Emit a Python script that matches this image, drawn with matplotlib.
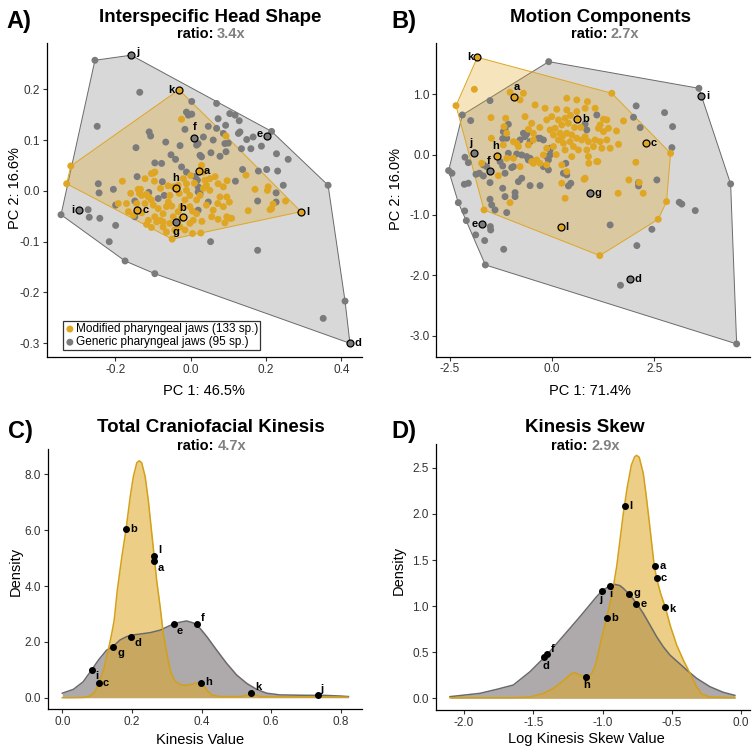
import numpy as np
import matplotlib
matplotlib.use('Agg')
import matplotlib.pyplot as plt

plt.rcParams['font.family'] = ['Liberation Sans', 'DejaVu Sans']
plt.rcParams['axes.unicode_minus'] = False

# ---------------- DATA ----------------
# Panel A: Interspecific head shape (PC1, PC2)
modA_pts = [(-0.024, 0.141), (0.094, 0.108), (-0.318, 0.049), (-0.329, 0.014), (0.252, -0.020),
            (0.215, -0.035), (0.219, -0.026), (0.171, 0.003), (0.204, 0.001), (0.206, 0.008),
            (0.147, 0.031), (0.097, 0.020), (0.153, -0.039), (0.103, -0.022), (0.104, -0.054),
            (0.073, -0.056), (0.027, -0.083), (0.005, -0.084), (-0.049, -0.095), (-0.090, -0.061),
            (-0.104, -0.072), (-0.117, -0.066), (-0.192, -0.025), (-0.181, 0.019), (-0.136, -0.005),
            (-0.117, -0.007), (-0.099, 0.035), (-0.096, 0.019), (-0.159, -0.005), (-0.165, -0.041),
            (-0.130, -0.043), (-0.143, -0.025), (-0.139, 0.003), (-0.130, -0.009), (-0.112, -0.012),
            (-0.104, -0.018), (-0.121, -0.025), (-0.099, -0.028), (-0.086, -0.035), (-0.095, -0.051),
            (-0.112, -0.058), (-0.081, -0.058), (-0.073, -0.045), (-0.064, -0.031), (-0.059, -0.022),
            (-0.055, -0.009), (-0.046, 0.008), (-0.033, 0.011), (-0.019, 0.024), (-0.011, 0.014),
            (-0.011, 0.001), (-0.002, -0.009), (-0.015, -0.018), (-0.024, -0.031), (-0.033, -0.041),
            (-0.046, -0.051), (-0.055, -0.064), (-0.042, -0.077), (-0.028, -0.071), (-0.015, -0.077),
            (-0.002, -0.064), (0.007, -0.058), (0.016, -0.045), (-0.002, -0.031), (0.016, -0.018),
            (0.025, -0.009), (0.034, 0.005), (0.038, 0.021), (0.051, 0.024), (0.065, 0.028),
            (0.073, 0.014), (0.051, 0.001), (0.042, -0.028), (0.060, -0.038), (0.056, -0.051),
            (0.087, -0.031), (0.096, -0.051), (0.078, -0.012), (0.096, -0.012), (0.087, 0.008),
            (0.029, 0.050), (0.034, 0.037), (-0.064, -0.081), (-0.073, -0.071), (-0.152, -0.048),
            (-0.170, -0.025), (-0.133, 0.003), (-0.121, 0.024), (-0.104, 0.034), (-0.095, 0.037),
            (-0.073, -0.061), (0.211, -0.037), (0.072, -0.025), (0.109, -0.054), (0.091, -0.063),
            (0.042, 0.011), (-0.060, 0.010), (-0.030, -0.005), (0.000, 0.030), (-0.050, -0.030),
            (0.010, 0.015), (-0.025, -0.055), (0.030, -0.060), (-0.080, 0.005), (0.005, -0.040)]
genA_pts = [(-0.254, 0.257), (-0.135, 0.194), (-0.248, 0.127), (-0.110, 0.116), (-0.106, 0.108),
            (-0.145, 0.085), (-0.066, 0.096), (-0.028, 0.089), (-0.052, 0.071), (-0.040, 0.062),
            (-0.095, 0.055), (-0.077, 0.054), (-0.024, 0.047), (0.003, 0.176), (-0.011, 0.155),
            (-0.006, 0.149), (0.003, 0.151), (-0.015, 0.121), (0.020, 0.093), (0.034, 0.106),
            (0.025, 0.070), (0.069, 0.172), (0.073, 0.142), (0.047, 0.127), (0.069, 0.123),
            (0.060, 0.100), (0.054, 0.075), (0.078, 0.068), (0.104, 0.152), (0.118, 0.149),
            (0.129, 0.138), (0.093, 0.129), (0.100, 0.094), (0.094, 0.077), (0.127, 0.113),
            (0.149, 0.101), (0.166, 0.106), (0.160, 0.083), (0.215, 0.117), (0.228, 0.073),
            (0.259, 0.062), (0.202, 0.042), (0.180, 0.039), (0.231, 0.039), (0.246, 0.011),
            (0.365, 0.011), (0.227, -0.022), (0.178, -0.020), (0.119, 0.019), (0.020, -0.002),
            (0.020, -0.038), (0.053, -0.100), (0.178, -0.117), (0.410, -0.217), (0.352, -0.251),
            (-0.095, -0.163), (-0.174, -0.138), (-0.216, -0.100), (-0.199, -0.068), (-0.241, -0.054),
            (-0.269, -0.052), (-0.272, -0.037), (-0.344, -0.047), (-0.245, 0.014), (-0.243, -0.004),
            (-0.205, 0.003), (-0.199, -0.028), (-0.148, -0.020), (-0.148, -0.051), (-0.142, 0.028),
            (-0.111, -0.003), (-0.070, -0.009), (-0.075, 0.018), (0.087, 0.113), (0.016, 0.090),
            (0.029, 0.067), (0.091, 0.093), (-0.011, 0.037), (0.012, 0.028), (0.020, 0.008),
            (0.025, -0.005), (0.047, -0.022), (-0.086, -0.015), (0.131, 0.116), (0.135, 0.083),
            (0.188, 0.088), (0.138, 0.042), (0.227, -0.004), (0.018, 0.021)]
labA_names = ['a', 'b', 'c', 'd', 'e', 'f', 'g', 'h', 'i', 'j', 'k', 'l']
labA_x = [0.022, -0.021, -0.141, 0.423, 0.202, 0.010, -0.040, -0.040, -0.296, -0.158, -0.031, 0.293]
labA_y = [0.039, -0.052, -0.038, -0.300, 0.108, 0.105, -0.061, 0.005, -0.038, 0.267, 0.199, -0.041]
lab_group = ['mod', 'mod', 'mod', 'gen', 'gen', 'gen', 'gen', 'mod', 'gen', 'gen', 'mod', 'mod']

# Panel B: Motion components (PC1, PC2)
modB_pts = [(-1.900, 1.083), (-2.349, 0.812), (-1.028, 1.033), (-0.701, 1.017), (-0.783, 0.906),
            (1.460, 1.017), (2.896, 0.022), (2.798, -0.779), (2.594, -1.072), (1.166, -1.674),
            (-1.664, -0.917), (-1.493, 0.613), (-1.485, 0.271), (-1.134, 0.602), (-1.175, 0.464),
            (-1.191, 0.160), (-1.109, -0.061), (-0.865, 0.188), (-0.824, 0.133), (-0.579, 0.160),
            (-0.457, 0.243), (-0.783, -0.199), (-0.457, -0.144), (-0.294, -0.144), (-0.131, -0.171),
            (-1.028, -0.796), (-1.313, -0.348), (-1.721, -0.144), (-0.416, 0.823), (-0.171, 0.768),
            (0.114, 0.751), (0.359, 0.740), (0.604, 0.713), (0.359, 0.934), (0.604, 0.906),
            (0.865, 0.878), (1.052, 0.768), (0.808, 0.768), (-0.661, 0.630), (-0.498, 0.519),
            (-0.579, 0.420), (-0.457, 0.354), (-0.131, 0.575), (-0.008, 0.630), (0.155, 0.575),
            (0.318, 0.602), (0.400, 0.519), (0.237, 0.492), (0.073, 0.436), (-0.049, 0.409),
            (0.033, 0.326), (0.196, 0.354), (0.359, 0.354), (0.481, 0.326), (0.604, 0.271),
            (0.440, 0.215), (0.277, 0.188), (0.155, 0.243), (0.033, 0.133), (0.318, 0.077),
            (0.522, 0.133), (0.726, 0.243), (0.808, 0.298), (0.889, 0.215), (1.052, 0.243),
            (1.175, 0.215), (1.338, 0.243), (1.419, 0.105), (1.215, 0.105), (1.011, 0.133),
            (0.848, 0.077), (0.644, 0.077), (0.481, -0.033), (0.889, -0.033), (1.093, -0.116),
            (0.237, -0.171), (0.359, -0.282), (0.237, -0.475), (0.808, -0.392), (0.318, -0.724),
            (-1.109, 0.354), (-0.946, 0.215), (-0.946, -0.061), (-0.498, -0.116), (-0.375, -0.088),
            (-0.212, -0.006), (-0.131, 0.105), (1.338, 0.575), (1.175, 0.492), (1.256, 0.381),
            (1.378, 0.436), (1.615, -0.641), (1.876, -0.420), (2.129, -0.464), (2.227, -0.641),
            (2.047, -0.127), (1.574, 0.392), (0.783, -0.409), (0.897, -0.144), (1.746, 0.558),
            (1.623, 0.171), (1.117, -0.116), (1.256, 0.586), (1.134, 0.436), (0.450, 0.650),
            (0.250, 0.300), (0.700, 0.450), (-0.300, 0.450), (0.100, 0.000), (0.550, 0.450)]
genB_pts = [(-0.082, 1.541), (3.589, 1.099), (4.364, -0.486), (4.511, -3.138), (1.672, -2.166),
            (-1.631, -1.829), (-1.183, -1.569), (-1.648, -1.425), (-1.868, -1.331), (-2.096, -1.094),
            (-1.509, -1.193), (-1.501, -1.249), (-2.137, -0.934), (-2.292, -0.796), (-2.529, -0.265),
            (-2.447, -0.309), (-2.194, 0.657), (-1.517, 0.895), (-1.990, 0.564), (-2.129, -0.044),
            (-2.047, -0.133), (-1.680, -0.171), (-1.599, -0.199), (-1.272, -0.116), (-1.207, -0.188),
            (-0.987, -0.215), (-1.860, -0.326), (-1.778, -0.309), (-1.680, -0.354), (-1.517, -0.464),
            (-1.207, -0.558), (-1.150, -0.696), (-0.905, -0.630), (-0.905, -0.696), (-0.824, -0.448),
            (-0.742, -0.392), (-0.538, -0.514), (-0.294, -0.514), (-2.145, -0.492), (-2.047, -0.475),
            (-1.517, -0.740), (-1.476, -0.834), (-1.395, -0.917), (-1.109, -0.961), (-1.069, 0.503),
            (-1.150, 0.420), (-1.207, 0.265), (-0.783, 0.243), (-0.661, 0.298), (-0.620, 0.343),
            (-0.294, 0.271), (-0.212, 0.243), (-0.049, 0.105), (-0.131, -0.033), (-1.069, 0.022),
            (-0.865, 0.011), (-0.742, -0.006), (-0.620, -0.033), (-0.538, -0.061), (0.277, -0.309),
            (0.359, -0.337), (0.400, -0.519), (0.334, -0.144), (0.457, -0.475), (1.093, 0.657),
            (0.848, 0.409), (0.808, 0.508), (2.055, 0.807), (1.990, 0.619), (2.153, 0.448),
            (2.749, 0.696), (2.945, 0.464), (2.928, 0.116), (2.561, -0.420), (2.113, -0.519),
            (2.113, -0.464), (1.419, -1.166), (2.439, -1.238), (2.072, -1.508), (3.108, -0.790),
            (3.170, -0.820), (3.499, -0.928), (-1.191, 0.381), (-1.109, 0.271), (-0.701, 0.354),
            (-0.538, 0.215), (-0.334, 0.271), (-0.049, 0.077), (-0.049, -0.006), (-0.090, -0.088),
            (-0.212, -0.199), (-0.090, -0.254), (-0.579, -0.088), (-0.946, -0.199), (-1.150, -0.309)]
labB_x = [-0.930, 0.620, 2.292, 1.900, -1.721, -1.517, 0.922, -1.346, 3.638, -1.909, -1.827, 0.212]
labB_y = [0.961, 0.586, 0.199, -2.066, -1.149, -0.276, -0.641, -0.022, 0.972, 0.033, 1.613, -1.193]

# Panel C: Total craniofacial kinesis density
kinC_mod_x = [0.000, 0.030, 0.060, 0.080, 0.094, 0.104, 0.118, 0.132, 0.142, 0.149, 0.158, 0.171,
              0.183, 0.195, 0.204, 0.214, 0.221, 0.228, 0.238, 0.247, 0.257, 0.264, 0.271, 0.281,
              0.290, 0.300, 0.310, 0.319, 0.329, 0.343, 0.362, 0.381, 0.396, 0.405, 0.415, 0.429,
              0.453, 0.511, 0.530, 0.544, 0.554, 0.568, 0.820]
kinC_mod_y = [0.00, 0.00, 0.01, 0.06, 0.22, 0.51, 0.99, 1.71, 2.30, 2.78, 3.86, 5.05,
              6.03, 7.20, 7.92, 8.42, 8.49, 8.42, 7.92, 7.08, 5.88, 5.05, 4.21, 3.26,
              2.30, 1.59, 0.99, 0.69, 0.54, 0.45, 0.45, 0.51, 0.55, 0.45, 0.28, 0.10,
              0.04, 0.04, 0.085, 0.13, 0.11, 0.04, 0.02]
kinC_gen_x = [0.000, 0.032, 0.060, 0.084, 0.104, 0.127, 0.147, 0.166, 0.185, 0.204, 0.223, 0.252,
              0.281, 0.310, 0.329, 0.357, 0.376, 0.396, 0.415, 0.443, 0.472, 0.501, 0.530, 0.558,
              0.587, 0.625, 0.702, 0.750, 0.798, 0.822]
kinC_gen_y = [0.16, 0.30, 0.57, 0.99, 1.35, 1.70, 1.85, 2.07, 2.19, 2.25, 2.28, 2.33,
              2.42, 2.59, 2.68, 2.75, 2.68, 2.48, 2.19, 1.71, 1.23, 0.81, 0.51, 0.30,
              0.16, 0.10, 0.085, 0.085, 0.06, 0.04]
labC_x = [0.264, 0.183, 0.104, 0.196, 0.321, 0.386, 0.147, 0.399, 0.084, 0.734, 0.542, 0.264]
labC_y = [4.90, 6.03, 0.51, 2.19, 2.63, 2.63, 1.83, 0.54, 0.99, 0.08, 0.18, 5.07]

# Panel D: Kinesis skew density
skewD_mod_x = [-2.102, -1.645, -1.524, -1.428, -1.356, -1.284, -1.224, -1.200, -1.164, -1.128, -1.100,
               -1.080, -1.056, -1.032, -1.008, -0.976, -0.947, -0.923, -0.899, -0.875, -0.851, -0.822,
               -0.793, -0.769, -0.755, -0.736, -0.707, -0.688, -0.668, -0.649, -0.630, -0.611, -0.582,
               -0.548, -0.510, -0.466, -0.418, -0.370, -0.322, -0.286, -0.226, -0.046]
skewD_mod_y = [0.007, 0.007, 0.014, 0.054, 0.108, 0.191, 0.270, 0.278, 0.253, 0.232, 0.232,
               0.270, 0.343, 0.487, 0.650, 0.849, 1.030, 1.211, 1.428, 1.717, 2.006, 2.296,
               2.530, 2.621, 2.635, 2.614, 2.440, 2.223, 1.969, 1.717, 1.464, 1.301, 1.138,
               0.986, 0.777, 0.578, 0.415, 0.271, 0.126, 0.047, 0.014, 0.007]
skewD_gen_x = [-2.102, -1.885, -1.765, -1.645, -1.524, -1.421, -1.399, -1.284, -1.164, -1.044, -1.003,
               -0.947, -0.911, -0.875, -0.851, -0.803, -0.755, -0.707, -0.659, -0.611, -0.563, -0.515,
               -0.442, -0.394, -0.322, -0.226, -0.130, -0.046]
skewD_gen_y = [0.018, 0.054, 0.097, 0.144, 0.289, 0.444, 0.477, 0.676, 0.885, 1.102, 1.167,
               1.222, 1.236, 1.222, 1.193, 1.121, 1.030, 0.922, 0.796, 0.669, 0.560, 0.470,
               0.372, 0.307, 0.217, 0.126, 0.065, 0.032]
labD_x = [-0.622, -0.971, -0.611, -1.421, -0.757, -1.399, -0.808, -1.118, -0.947, -1.003, -0.548, -0.839]
labD_y = [1.435, 0.867, 1.309, 0.444, 1.023, 0.477, 1.127, 0.235, 1.222, 1.167, 0.986, 2.086]

titles = ['Interspecific Head Shape', 'Motion Components', 'Total Craniofacial Kinesis', 'Kinesis Skew']
ratios = ['3.4x', '2.7x', '4.7x', '2.9x']
panel_letters = ['A)', 'B)', 'C)', 'D)']
legend_labels = ['Modified pharyngeal jaws (133 sp.)', 'Generic pharyngeal jaws (95 sp.)']

# ---------------- STYLE ----------------
GOLD = '#DFA623'
GOLD_LINE = '#D4A017'
GRAY = '#7b7b7b'
TICKC = '#333333'


def hull(points):
    pts = sorted(set(points))
    def cross(o, a, b):
        return (a[0] - o[0]) * (b[1] - o[1]) - (a[1] - o[1]) * (b[0] - o[0])
    lower, upper = [], []
    for p in pts:
        while len(lower) >= 2 and cross(lower[-2], lower[-1], p) <= 0:
            lower.pop()
        lower.append(p)
    for p in reversed(pts):
        while len(upper) >= 2 and cross(upper[-2], upper[-1], p) <= 0:
            upper.pop()
        upper.append(p)
    return np.array(lower[:-1] + upper[:-1])


def style_axes(ax):
    for s in ['top', 'right']:
        ax.spines[s].set_visible(False)
    for s in ['left', 'bottom']:
        ax.spines[s].set_linewidth(0.9)
        ax.spines[s].set_color('black')
    ax.tick_params(direction='out', length=2.8, width=0.8, pad=2, color=TICKC,
                   labelcolor=TICKC, labelsize=8.5)


fig = plt.figure(figsize=(7.56, 7.53), dpi=100)
W, H = 756.0, 753.0


def add_ax(l, r, b, t):
    return fig.add_axes([l / W, 1 - b / H, (r - l) / W, (b - t) / H])


axA = add_ax(46.7, 362, 357, 43)
axB = add_ax(436.3, 749.7, 356.7, 43)
axC = add_ax(47.7, 361.7, 709.3, 449.3)
axD = add_ax(435.7, 749.7, 710.3, 444.3)


def scatter_panel(ax, mod_pts, gen_pts, lx, ly, offsets):
    mod_all = list(mod_pts) + [(x, y) for x, y, g in zip(lx, ly, lab_group) if g == 'mod']
    gen_all = list(gen_pts) + [(x, y) for x, y, g in zip(lx, ly, lab_group) if g == 'gen']
    hg = hull(gen_all)
    hm = hull(mod_all)
    ax.fill(hg[:, 0], hg[:, 1], facecolor='#808080', alpha=0.3, edgecolor='none', zorder=1)
    ax.fill(hg[:, 0], hg[:, 1], facecolor='none', edgecolor='#6a6a6a', lw=0.7, zorder=1.1)
    ax.fill(hm[:, 0], hm[:, 1], facecolor=GOLD, alpha=0.3, edgecolor='none', zorder=1.2)
    ax.fill(hm[:, 0], hm[:, 1], facecolor='none', edgecolor=GOLD, lw=0.7, zorder=1.3)
    g = np.array(gen_pts)
    m = np.array(mod_pts)
    ax.scatter(g[:, 0], g[:, 1], s=25, color=GRAY, edgecolor='none', zorder=2)
    ax.scatter(m[:, 0], m[:, 1], s=25, color=GOLD, edgecolor='none', zorder=2.1)
    for name, x, y, grp in zip(labA_names, lx, ly, lab_group):
        ax.scatter([x], [y], s=25, color=GOLD if grp == 'mod' else GRAY,
                   edgecolor='black', linewidths=0.9, zorder=3)
        dx, dy, ha, va = offsets[name]
        ax.annotate(name, (x, y), xytext=(dx, dy), textcoords='offset points', ha=ha, va=va,
                    fontsize=8, fontweight='bold', zorder=4)


offA = {'a': (3.5, 0, 'left', 'center'), 'b': (0, 3, 'center', 'bottom'), 'c': (3.5, 0, 'left', 'center'),
        'd': (3.5, 0, 'left', 'center'), 'e': (-3, 1.5, 'right', 'center'), 'f': (0, 4, 'center', 'bottom'),
        'g': (0, -3.5, 'center', 'top'), 'h': (0, 3.5, 'center', 'bottom'), 'i': (-3.5, 0, 'right', 'center'),
        'j': (3.5, 2, 'left', 'center'), 'k': (-3, 0, 'right', 'center'), 'l': (3.5, 0, 'left', 'center')}
offB = {'a': (2, 3, 'center', 'bottom'), 'b': (3.5, 0, 'left', 'center'), 'c': (3.5, 0, 'left', 'center'),
        'd': (3.5, 0, 'left', 'center'), 'e': (-3, 0, 'right', 'center'), 'f': (-1, 3.5, 'center', 'bottom'),
        'g': (3.5, 0, 'left', 'center'), 'h': (-1, 3.5, 'center', 'bottom'), 'i': (3.5, 0, 'left', 'center'),
        'j': (-2, 3.5, 'center', 'bottom'), 'k': (-3, 0, 'right', 'center'), 'l': (3.5, 0, 'left', 'center')}

scatter_panel(axA, modA_pts, genA_pts, labA_x, labA_y, offA)
scatter_panel(axB, modB_pts, genB_pts, labB_x, labB_y, offB)

fmt = matplotlib.ticker.FormatStrFormatter('%.1f')

axA.set_xlim(-0.382, 0.455)
axA.set_ylim(-0.327, 0.291)
axA.set_xticks([-0.2, 0.0, 0.2, 0.4])
axA.set_yticks([-0.3, -0.2, -0.1, 0.0, 0.1, 0.2])
axA.xaxis.set_major_formatter(fmt)
axA.yaxis.set_major_formatter(fmt)
axA.set_xlabel('PC 1: 46.5%', fontsize=10.5)
axA.set_ylabel('PC 2: 16.6%', fontsize=10.5)
axA.xaxis.set_label_coords(0.5, -0.086)
axA.yaxis.set_label_coords(-0.079, 0.538)

axB.set_xlim(-2.83, 4.83)
axB.set_ylim(-3.35, 1.85)
axB.set_xticks([-2.5, 0.0, 2.5])
axB.set_yticks([-3, -2, -1, 0, 1])
axB.xaxis.set_major_formatter(fmt)
axB.yaxis.set_major_formatter(fmt)
axB.set_xlabel('PC 1: 71.4%', fontsize=10.5)
axB.set_ylabel('PC 2: 16.0%', fontsize=10.5)
axB.xaxis.set_label_coords(0.49, -0.086)
axB.yaxis.set_label_coords(-0.106, 0.535)

for ax in (axA, axB):
    style_axes(ax)

# legend in A
h1 = axA.scatter([], [], s=25, color=GOLD, edgecolor='none')
h2 = axA.scatter([], [], s=25, color=GRAY, edgecolor='none')
leg = axA.legend([h1, h2], legend_labels, loc='lower left', bbox_to_anchor=(0.051, 0.022),
                 borderaxespad=0, borderpad=0.15, handletextpad=0.05, handlelength=0.9,
                 labelspacing=0.1, fontsize=8.5, frameon=True, fancybox=False)
leg.get_frame().set_edgecolor('black')
leg.get_frame().set_linewidth(0.9)
leg.set_zorder(5)


def density_panel(ax, xm, ym, xg, yg, lx, ly, offsets):
    ax.fill_between(xg, 0, yg, color='#5e565a', alpha=0.5, lw=0, zorder=1)
    ax.fill_between(xm, 0, ym, color=GOLD, alpha=0.55, lw=0, zorder=1.1)
    ax.plot(xg, yg, color='#6a6a6a', lw=1.1, zorder=2)
    ax.plot(xm, ym, color=GOLD_LINE, lw=1.1, zorder=2.1)
    ax.scatter(lx, ly, s=16, color='black', zorder=3)
    for name, x, y in zip(labA_names, lx, ly):
        dx, dy, ha, va = offsets[name]
        ax.annotate(name, (x, y), xytext=(dx, dy), textcoords='offset points', ha=ha, va=va,
                    fontsize=8, fontweight='bold', zorder=4)
    style_axes(ax)


offC = {'a': (2.5, -1.5, 'left', 'top'), 'b': (3, 0, 'left', 'center'), 'c': (3, 0, 'left', 'center'),
        'd': (3, -1, 'left', 'top'), 'e': (2, -1, 'left', 'top'), 'f': (3, 1, 'left', 'bottom'),
        'g': (3, -1, 'left', 'top'), 'h': (3, 0.5, 'left', 'center'), 'i': (2.5, -1, 'left', 'top'),
        'j': (2, 1, 'left', 'bottom'), 'k': (3, 0.5, 'left', 'bottom'), 'l': (3, 0.5, 'left', 'bottom')}
offD = {'a': (3, 0, 'left', 'center'), 'b': (3, 0, 'left', 'center'), 'c': (3, 0, 'left', 'center'),
        'd': (1, -2.5, 'center', 'top'), 'e': (3, 0, 'left', 'center'), 'f': (2.5, 0.5, 'left', 'bottom'),
        'g': (3, 1, 'left', 'center'), 'h': (0.5, -2.5, 'center', 'top'), 'i': (0.5, -2.5, 'center', 'top'),
        'j': (-1, -2.5, 'center', 'top'), 'k': (3, -1, 'left', 'center'), 'l': (3, 0, 'left', 'center')}

density_panel(axC, kinC_mod_x, kinC_mod_y, kinC_gen_x, kinC_gen_y, labC_x, labC_y, offC)
density_panel(axD, skewD_mod_x, skewD_mod_y, skewD_gen_x, skewD_gen_y, labD_x, labD_y, offD)

axC.set_xlim(-0.042, 0.860)
axC.set_ylim(-0.416, 8.90)
axC.set_xticks([0.0, 0.2, 0.4, 0.6, 0.8])
axC.set_yticks([0, 2, 4, 6, 8])
axC.xaxis.set_major_formatter(fmt)
axC.yaxis.set_major_formatter(fmt)
axC.set_xlabel('Kinesis Value', fontsize=10.5)
axC.set_ylabel('Density', fontsize=10.5)
axC.xaxis.set_label_coords(0.485, -0.092)
axC.yaxis.set_label_coords(-0.079, 0.53)

axD.set_xlim(-2.205, 0.061)
axD.set_ylim(-0.13, 2.755)
axD.set_xticks([-2.0, -1.5, -1.0, -0.5, 0.0])
axD.set_yticks([0.0, 0.5, 1.0, 1.5, 2.0, 2.5])
axD.xaxis.set_major_formatter(fmt)
axD.yaxis.set_major_formatter(fmt)
axD.set_xlabel('Log Kinesis Skew Value', fontsize=10.5)
axD.set_ylabel('Density', fontsize=10.5)
axD.xaxis.set_label_coords(0.479, -0.082)
axD.yaxis.set_label_coords(-0.094, 0.524)

# titles, ratios, panel letters (positions in pixels from top-left)
title_pos = [(210, 21.7, 38.3, 6, 28.3), (600, 21.7, 38.3, 391, 28.3),
             (211, 432, 450, 8, 437.7), (585, 432, 450, 391, 437.7)]
split_x = [213, 607, 214, 587.5]
for (tx, ty, ry, lxp, lyp), ttl, rat, let, sx in zip(title_pos, titles, ratios, panel_letters, split_x):
    fig.text(tx / W, 1 - ty / H, ttl, ha='center', va='baseline', fontsize=13.5, fontweight='bold')
    fig.text(sx / W, 1 - ry / H, 'ratio:', ha='right', va='baseline', fontsize=10.5, fontweight='bold')
    fig.text((sx + 3.5) / W, 1 - ry / H, rat, ha='left', va='baseline', fontsize=10.5,
             fontweight='bold', color='#808080')
    fig.text(lxp / W, 1 - lyp / H, let, ha='left', va='baseline', fontsize=17, fontweight='bold')

fig.savefig('out.png', dpi=100)
